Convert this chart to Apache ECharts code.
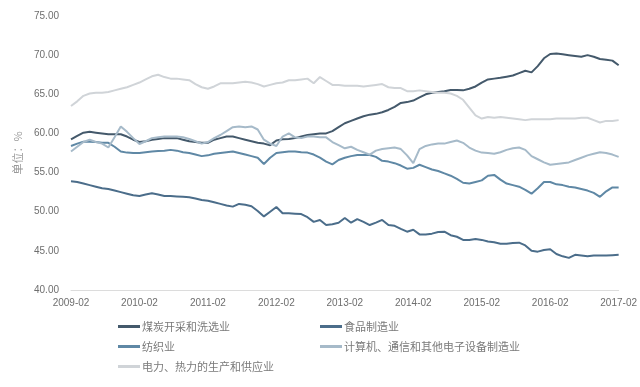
<!DOCTYPE html>
<html>
<head>
<meta charset="utf-8">
<script src="https://cdn.jsdelivr.net/npm/echarts@6/dist/echarts.min.js"></script>
<style>
html,body{margin:0;padding:0;background:#fff;}
#c{width:640px;height:387px;}
</style>
</head>
<body>
<div id="c"></div>
<script>
// Monthly categories (Jan excluded, Jan-Feb reported as Feb)
var months = ['02','03','04','05','06','07','08','09','10','11','12'];
var categories = [];
for (var y = 2009; y <= 2017; y++) {
  for (var m = 0; m < months.length; m++) {
    if (y === 2017 && m > 0) break;
    categories.push(y + '-' + months[m]);
  }
}

var seriesNames = ['煤炭开采和洗选业', '食品制造业', '纺织业', '计算机、通信和其他电子设备制造业', '电力、热力的生产和供应业'];

var coal = [59.25,59.7,60.1,60.2,60.1,60.0,59.9,59.9,59.9,59.6,59.2,
  58.9,59.0,59.2,59.3,59.4,59.4,59.4,59.2,59.0,58.9,58.8,
  58.8,59.2,59.4,59.6,59.6,59.4,59.2,59.0,58.8,58.7,58.5,
  59.1,59.25,59.3,59.4,59.6,59.8,59.9,60.0,60.0,60.3,60.8,
  61.3,61.6,61.9,62.2,62.4,62.5,62.7,63.0,63.4,63.9,64.0,
  64.2,64.6,65.0,65.2,65.3,65.4,65.55,65.55,65.5,65.7,66.0,
  66.5,66.9,67.0,67.1,67.25,67.4,67.7,68.0,67.8,68.6,69.6,
  70.15,70.2,70.1,70.0,69.9,69.8,70.0,69.8,69.5,69.4,69.3,
  68.7];

var food = [53.9,53.8,53.6,53.4,53.2,53.0,52.9,52.7,52.5,52.3,52.1,
  52.0,52.2,52.35,52.2,52.0,52.0,51.95,51.9,51.85,51.7,51.5,
  51.4,51.2,51.0,50.8,50.65,51.0,50.9,50.7,50.1,49.4,50.0,
  50.6,49.8,49.8,49.75,49.7,49.3,48.7,48.95,48.3,48.4,48.6,
  49.2,48.6,49.05,48.7,48.3,48.6,48.95,48.3,48.2,47.8,47.45,
  47.7,47.1,47.1,47.2,47.4,47.45,47.0,46.8,46.4,46.4,46.5,
  46.4,46.2,46.1,45.9,45.9,46.0,46.05,45.7,45.0,44.9,45.1,
  45.2,44.6,44.3,44.1,44.5,44.4,44.3,44.4,44.4,44.4,44.45,
  44.5];

var textile = [58.4,58.7,58.95,58.95,58.9,58.8,58.8,58.3,57.7,57.55,57.5,
  57.5,57.6,57.7,57.75,57.8,57.9,57.8,57.6,57.5,57.3,57.1,
  57.2,57.4,57.5,57.6,57.7,57.5,57.3,57.1,56.9,56.1,56.9,
  57.5,57.6,57.7,57.7,57.6,57.55,57.3,56.9,56.4,56.05,56.6,
  56.9,57.1,57.25,57.25,57.25,57.0,56.5,56.4,56.2,55.9,55.5,
  55.6,56.0,55.7,55.4,55.2,54.9,54.6,54.2,53.7,53.6,53.8,
  54.0,54.6,54.7,54.1,53.6,53.4,53.2,52.8,52.3,53.0,53.8,
  53.8,53.5,53.4,53.2,53.1,52.9,52.7,52.4,51.9,52.6,53.1,
  53.1];

var computer = [57.7,58.3,58.9,59.2,58.9,58.7,58.2,59.5,60.9,60.2,59.4,
  58.65,59.0,59.4,59.5,59.6,59.6,59.6,59.5,59.3,59.0,58.7,
  58.9,59.4,59.8,60.3,60.8,60.9,60.8,60.9,60.5,59.2,58.7,
  58.4,59.6,60.0,59.5,59.4,59.6,59.6,59.5,59.5,58.9,58.5,
  58.1,58.3,57.9,57.6,57.3,57.8,58.0,58.1,58.2,58.0,57.2,
  56.2,58.0,58.4,58.6,58.7,58.7,58.9,59.1,58.8,58.2,57.8,
  57.55,57.5,57.4,57.6,57.9,58.1,58.2,57.9,57.1,56.7,56.3,
  56.0,56.1,56.2,56.3,56.6,56.9,57.2,57.4,57.6,57.5,57.3,
  57.0];

var power = [63.5,64.1,64.8,65.1,65.2,65.2,65.3,65.5,65.7,65.9,66.2,
  66.5,66.9,67.3,67.5,67.2,67.0,67.0,66.9,66.8,66.3,65.9,
  65.7,66.0,66.4,66.4,66.4,66.5,66.6,66.5,66.3,66.0,66.2,
  66.4,66.5,66.8,66.8,66.9,67.0,66.4,67.2,66.7,66.2,66.2,
  66.1,66.1,66.1,66.0,66.1,66.2,66.3,65.9,65.8,65.8,65.4,
  65.4,65.5,65.4,65.3,65.2,65.2,65.1,64.8,64.3,63.3,62.3,
  61.9,62.1,62.0,62.1,62.0,61.9,61.8,61.7,61.8,61.8,61.8,
  61.8,61.9,61.9,61.9,61.9,62.0,62.0,61.7,61.4,61.6,61.6,
  61.7];

var yTicks = [40, 45, 50, 55, 60, 65, 70, 75];

var colors = ['#44596b', '#4b6d8a', '#5f88a5', '#a6bac9', '#d0d4d8'];
var dataSets = [coal, food, textile, computer, power];

var legendPos = [
  {left: 118, top: 321},
  {left: 320, top: 321},
  {left: 118, top: 341},
  {left: 320, top: 341},
  {left: 118, top: 361}
];

var chart = echarts.init(document.getElementById('c'), null, {renderer: 'canvas'});
var legends = seriesNames.map(function (n, i) {
  return {
    data: [n],
    left: legendPos[i].left,
    top: legendPos[i].top,
    icon: 'rect',
    itemWidth: 22,
    itemHeight: 3,
    itemGap: 0,
    padding: 0,
    textStyle: {fontSize: 11, color: '#7a7a7a', fontFamily: 'Noto Sans CJK SC', padding: [0, 0, 0, -3]}
  };
});

chart.setOption({
  animation: false,
  color: colors,
  grid: {left: 71, right: 20, top: 16, bottom: 97, containLabel: false},
  legend: legends,
  xAxis: {
    type: 'category',
    data: categories,
    boundaryGap: false,
    axisLine: {show: true, lineStyle: {color: '#dcdcdc', width: 1}},
    axisTick: {show: false},
    axisLabel: {interval: 10, color: '#6e6e6e', fontSize: 10, margin: 8, fontFamily: 'Liberation Sans'},
    splitLine: {show: false}
  },
  yAxis: {
    type: 'value',
    min: yTicks[0],
    max: yTicks[yTicks.length - 1],
    interval: 5,
    name: '单位：%',
    nameLocation: 'middle',
    nameRotate: 90,
    nameGap: 40,
    nameTextStyle: {color: '#9a9a9a', fontSize: 11, fontFamily: 'Noto Sans CJK SC'},
    axisLine: {show: false},
    axisTick: {show: false},
    splitLine: {show: false},
    axisLabel: {
      color: '#6e6e6e', fontSize: 10, margin: 12, fontFamily: 'Liberation Sans',
      formatter: function (v) { return v.toFixed(2); }
    }
  },
  series: seriesNames.map(function (n, i) {
    return {
      name: n,
      type: 'line',
      data: dataSets[i],
      symbol: 'none',
      smooth: false,
      lineStyle: {width: 2, color: colors[i]},
      itemStyle: {color: colors[i]},
      z: 2 + i
    };
  })
});
</script>
</body>
</html>
